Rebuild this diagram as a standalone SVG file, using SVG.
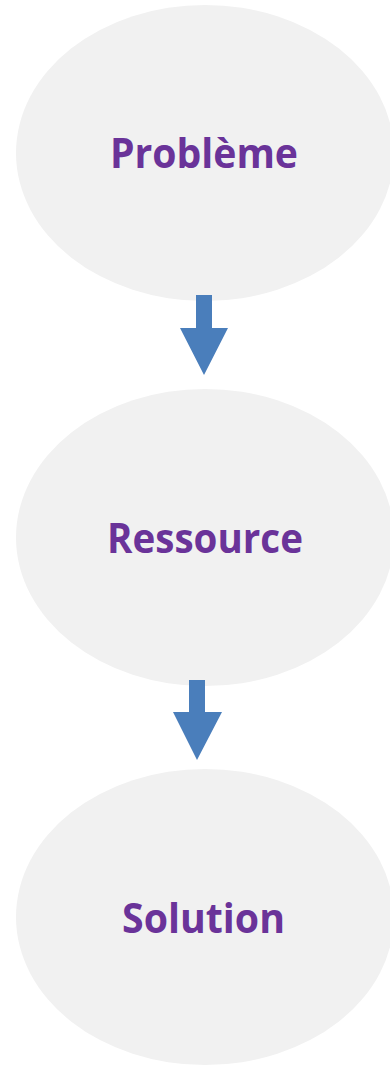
<svg xmlns="http://www.w3.org/2000/svg" width="390" height="1066" viewBox="0 0 390 1066">
<style>
.node{fill:#F1F1F1}
.lbl{font-family:"Open Sans","Liberation Sans",sans-serif;font-weight:700;font-size:41px;fill:#6A3399}
.arr{fill:#4A7EBB}
</style>
<rect width="390" height="1066" fill="#FFFFFF"/>
<g id="n1"><ellipse class="node" cx="205" cy="153" rx="189" ry="148"/><text class="lbl" x="110" y="168" textLength="188" lengthAdjust="spacingAndGlyphs">Problème</text></g>
<g id="n2"><ellipse class="node" cx="205" cy="537.5" rx="189" ry="148.5"/><text class="lbl" x="107" y="553" textLength="196" lengthAdjust="spacingAndGlyphs">Ressource</text></g>
<g id="n3"><ellipse class="node" cx="205" cy="917" rx="189" ry="148"/><text class="lbl" x="122" y="933" textLength="163" lengthAdjust="spacingAndGlyphs">Solution</text></g>
<g id="connectors">
<polygon class="arr" points="196,295 212,295 212,328 228,328 204,375 180,328 196,328"/>
<polygon class="arr" points="189,680 205,680 205,712 222,712 197,760 173,712 189,712"/>
</g>
</svg>
